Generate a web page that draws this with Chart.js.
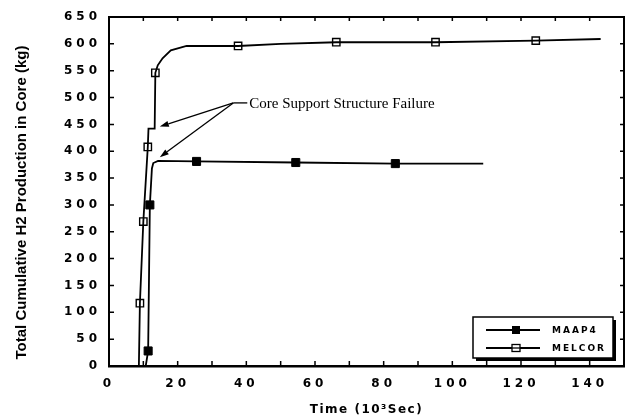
<!DOCTYPE html>
<html>
<head>
<meta charset="utf-8">
<script src="https://cdn.jsdelivr.net/npm/chart.js@4.4.1/dist/chart.umd.min.js"></script>
<style>
  html, body { margin: 0; padding: 0; background: #fff; }
  #wrap { width: 625px; height: 418px; }
</style>
</head>
<body>
<div id="wrap"><canvas id="grafica" width="625" height="418"></canvas></div>
<script>
// time in 10^3 s, H2 in kg
const maapTime = [10.7, 11.4, 11.9, 12.5, 12.9, 14.3, 25.5, 54.4, 83.4, 109];
const maapH2 = [0, 28, 300, 368, 378, 382, 381, 379, 377, 377];
const maapMarkTime = [11.4, 11.9, 25.5, 54.4, 83.4];
const maapMarkH2 = [28, 300, 381, 379, 377];

const melcorTime = [8.7, 9.0, 10.0, 11.3, 11.5, 13.3, 13.5, 14.2, 15.6, 18.0, 22.6, 37.6, 50, 66.2, 95.1, 124.3, 143.2];
const melcorH2 = [0, 117, 269, 408, 442, 442, 546, 560, 573, 588, 596, 596, 600, 603, 603, 606, 609];
const melcorMarkTime = [9.0, 10.0, 11.3, 13.5, 37.6, 66.2, 95.1, 124.3];
const melcorMarkH2 = [117, 269, 408, 546, 596, 603, 603, 606];

const xLabels = [0, 20, 40, 60, 80, 100, 120, 140];
const seriesNames = ["MAAP4", "MELCOR"];
const noteText = "Core Support Structure Failure";

const pts = (xs, ys) => xs.map((x, i) => ({ x: x, y: ys[i] }));
const tickFont = { family: "'DejaVu Sans', sans-serif", size: 12, weight: "bold" };

// letter spacing for the axis texts
const spacing = {
  id: "spacing",
  beforeDraw(chart) {
    Object.values(chart.scales).forEach((s) => {
      if (s._spaced) return;
      s._spaced = true;
      const dl = s.drawLabels;
      const dt = s.drawTitle;
      s.drawLabels = function (a) {
        const c = this.ctx;
        c.save();
        c.letterSpacing = "4px";
        dl.call(this, a);
        c.restore();
      };
      s.drawTitle = function () {
        const c = this.ctx;
        c.save();
        if (this.id === "x") c.letterSpacing = "1.5px";
        if (this.id === "y") c.translate(0, 11);
        dt.call(this);
        c.restore();
      };
    });
  },
};

// top and right frame, small ticks pointing into the plot on all four sides
const frame = {
  id: "frame",
  beforeDatasetsDraw(chart) {
    const { ctx, chartArea: a, scales } = chart;
    ctx.save();
    ctx.strokeStyle = "#000";
    ctx.lineWidth = 2;
    ctx.beginPath();
    ctx.moveTo(a.left, a.top);
    ctx.lineTo(a.right, a.top);
    ctx.lineTo(a.right, a.bottom);
    ctx.stroke();
    ctx.lineWidth = 1.5;
    ctx.beginPath();
    scales.x.ticks.forEach((t) => {
      if (t.value <= scales.x.min || t.value >= scales.x.max) return;
      const px = scales.x.getPixelForValue(t.value);
      ctx.moveTo(px, a.bottom);
      ctx.lineTo(px, a.bottom - 5);
      ctx.moveTo(px, a.top);
      ctx.lineTo(px, a.top + 4);
    });
    scales.y.ticks.forEach((t) => {
      if (t.value <= scales.y.min || t.value >= scales.y.max) return;
      const py = scales.y.getPixelForValue(t.value);
      ctx.moveTo(a.left, py);
      ctx.lineTo(a.left + 5, py);
      ctx.moveTo(a.right, py);
      ctx.lineTo(a.right - 4, py);
    });
    ctx.stroke();
    ctx.restore();
  },
};

function arrow(ctx, x0, y0, x1, y1) {
  const ang = Math.atan2(y1 - y0, x1 - x0);
  const len = 9, half = 3;
  ctx.beginPath();
  ctx.moveTo(x0, y0);
  ctx.lineTo(x1 - Math.cos(ang) * len, y1 - Math.sin(ang) * len);
  ctx.stroke();
  ctx.beginPath();
  ctx.moveTo(x1, y1);
  ctx.lineTo(x1 - Math.cos(ang) * len - Math.sin(ang) * half, y1 - Math.sin(ang) * len + Math.cos(ang) * half);
  ctx.lineTo(x1 - Math.cos(ang) * len + Math.sin(ang) * half, y1 - Math.sin(ang) * len - Math.cos(ang) * half);
  ctx.closePath();
  ctx.fill();
}

const note = {
  id: "note",
  afterDatasetsDraw(chart) {
    const { ctx, scales } = chart;
    const X = (v) => scales.x.getPixelForValue(v);
    const Y = (v) => scales.y.getPixelForValue(v);
    const ox = X(36.2), oy = Y(490);
    ctx.save();
    ctx.strokeStyle = "#000";
    ctx.fillStyle = "#000";
    ctx.lineWidth = 1.3;
    arrow(ctx, ox, oy, X(14.8), Y(446));
    arrow(ctx, ox, oy, X(14.8), Y(389));
    ctx.beginPath();
    ctx.moveTo(ox, oy);
    ctx.lineTo(ox + 14, oy);
    ctx.stroke();
    ctx.font = "15px 'Liberation Serif', serif";
    ctx.textBaseline = "middle";
    ctx.fillText(noteText, ox + 16, oy + 1);
    ctx.restore();
  },
};

const legendBox = {
  id: "legendBox",
  afterDraw(chart) {
    const { ctx, chartArea: a } = chart;
    const r = a.right - 11, b = a.bottom - 8;
    const l = r - 140, t = b - 41;
    ctx.save();
    ctx.fillStyle = "#000";
    ctx.fillRect(l + 3, t + 3, r - l, b - t);
    ctx.fillStyle = "#fff";
    ctx.fillRect(l, t, r - l, b - t);
    ctx.strokeStyle = "#000";
    ctx.lineWidth = 1.5;
    ctx.strokeRect(l, t, r - l, b - t);
    const rows = [t + 13, t + 31];
    rows.forEach((y, i) => {
      ctx.lineWidth = 1.8;
      ctx.beginPath();
      ctx.moveTo(l + 13, y);
      ctx.lineTo(l + 67, y);
      ctx.stroke();
      if (i === 0) {
        ctx.fillStyle = "#000";
        ctx.fillRect(l + 39, y - 4, 8, 8);
      } else {
        ctx.fillStyle = "#fff";
        ctx.fillRect(l + 39, y - 3.5, 8, 7);
        ctx.lineWidth = 1.3;
        ctx.strokeRect(l + 39, y - 3.5, 8, 7);
        ctx.beginPath();
        ctx.moveTo(l + 39, y);
        ctx.lineTo(l + 47, y);
        ctx.stroke();
      }
      ctx.fillStyle = "#000";
      ctx.font = "bold 9px 'DejaVu Sans', sans-serif";
      ctx.letterSpacing = "2px";
      ctx.textBaseline = "middle";
      ctx.fillText(seriesNames[i], l + 79, y + 1);
      ctx.letterSpacing = "0px";
    });
    ctx.restore();
  },
};

const ctx = document.getElementById("grafica").getContext("2d");

const grafica = new Chart(ctx, {
  type: "line",
  data: {
    datasets: [
      {
        label: "MAAP4",
        data: pts(maapTime, maapH2),
        borderColor: "#000",
        borderWidth: 1.8,
        pointRadius: 0,
        fill: false,
        order: 1,
      },
      {
        label: "MAAP4 markers",
        data: pts(maapMarkTime, maapMarkH2),
        showLine: false,
        pointStyle: "rect",
        pointRadius: 5.7,
        backgroundColor: "#000",
        borderColor: "#000",
        borderWidth: 1,
        order: 0,
      },
      {
        label: "MELCOR",
        data: pts(melcorTime, melcorH2),
        borderColor: "#000",
        borderWidth: 1.8,
        pointRadius: 0,
        fill: false,
        order: 2,
      },
      {
        label: "MELCOR markers",
        data: pts(melcorMarkTime, melcorMarkH2),
        showLine: false,
        pointStyle: "rect",
        pointRadius: 5.2,
        backgroundColor: "#fff",
        borderColor: "#000",
        borderWidth: 1.4,
        order: 3,
      },
    ],
  },
  options: {
    responsive: false,
    animation: false,
    layout: { autoPadding: false, padding: { top: 17, left: 0, right: 1, bottom: 0 } },
    plugins: {
      legend: { display: false },
      tooltip: { enabled: false },
    },
    scales: {
      x: {
        type: "linear",
        position: "bottom",
        min: 0,
        max: 150,
        afterFit: (s) => {
          s.height = 52;
          s.paddingLeft = 0;
          s.paddingRight = 0;
        },
        border: { color: "#000", width: 2.5 },
        grid: { drawOnChartArea: false, drawTicks: true, tickLength: 11, tickColor: "rgba(0,0,0,0)" },
        ticks: {
          stepSize: 10,
          autoSkip: false,
          maxRotation: 0,
          padding: 0,
          color: "#000",
          font: tickFont,
          callback: (v) => (xLabels.includes(v) ? String(v) : ""),
        },
        title: {
          display: true,
          text: "Time (10³Sec)",
          color: "#000",
          font: { family: "'DejaVu Sans', sans-serif", size: 12, weight: "bold" },
          padding: { top: 0, bottom: 1 },
        },
      },
      y: {
        min: 0,
        max: 650,
        afterFit: (s) => { s.width = 109; },
        border: { color: "#000", width: 2 },
        grid: { drawOnChartArea: false, drawTicks: false },
        ticks: {
          stepSize: 50,
          padding: 8,
          color: "#000",
          font: tickFont,
        },
        title: {
          display: true,
          text: "Total Cumulative H2 Production in Core (kg)",
          color: "#000",
          font: { family: "'Liberation Sans', sans-serif", size: 15, weight: "bold" },
          padding: { top: 13, bottom: 0 },
        },
      },
    },
  },
  plugins: [spacing, frame, note, legendBox],
});
</script>
</body>
</html>
